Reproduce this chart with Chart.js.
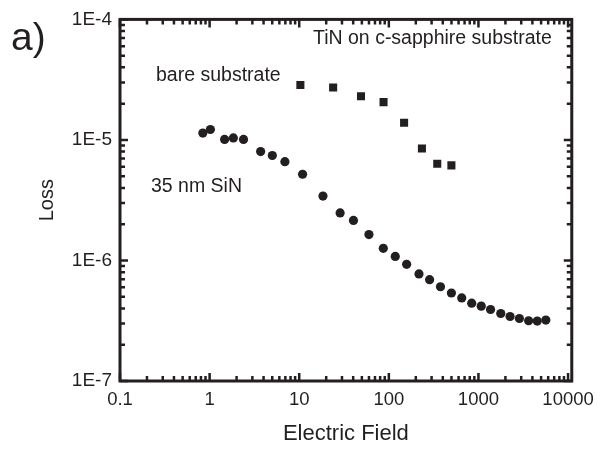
<!DOCTYPE html>
<html lang="en">
<head>
<meta charset="utf-8">
<script src="https://cdn.jsdelivr.net/npm/chart.js"></script>
<style>
  html, body { margin: 0; padding: 0; background: #fff; }
</style>
</head>
<body>
<canvas id="lossChart" width="602" height="451"></canvas>
<script>
// 35 nm SiN on TiN / c-sapphire (circles)
const sinField = [0.84, 1.02, 1.47, 1.84, 2.39, 3.71, 5.01, 6.92, 10.9, 18.4, 28.6, 40.3, 60, 86.7, 118,
                  158, 217, 285, 377, 499, 651, 841, 1074, 1365, 1775, 2254, 2864, 3630, 4530, 5650];
const sinLoss  = [1.14e-5, 1.22e-5, 1.01e-5, 1.04e-5, 1.01e-5, 8.0e-6, 7.43e-6, 6.6e-6, 5.19e-6, 3.42e-6,
                  2.48e-6, 2.15e-6, 1.64e-6, 1.26e-6, 1.08e-6, 9.29e-7, 7.73e-7, 6.93e-7, 6.05e-7, 5.37e-7,
                  4.89e-7, 4.42e-7, 4.18e-7, 3.92e-7, 3.63e-7, 3.43e-7, 3.30e-7, 3.16e-7, 3.14e-7, 3.2e-7];

// bare substrate (squares)
const bareField = [10.3, 23.9, 48.9, 87.3, 148, 234, 347, 499];
const bareLoss  = [2.86e-5, 2.72e-5, 2.30e-5, 2.06e-5, 1.39e-5, 8.48e-6, 6.35e-6, 6.15e-6];

const xTickValues = [0.1, 1, 10, 100, 1000, 10000];
const xTickLabels = ['0.1', '1', '10', '100', '1000', '10000'];
const yTickValues = [1e-7, 1e-6, 1e-5, 1e-4];
const yTickLabels = ['1E-7', '1E-6', '1E-5', '1E-4'];

const ink = '#231f20';
const fontFamily = '"Liberation Sans", Arial, Helvetica, sans-serif';

// frame + inward ticks on all four sides (Origin style)
const frameTicks = {
  id: 'frameTicks',
  afterDatasetsDraw(chart) {
    const { ctx, chartArea: a, scales } = chart;
    const xs = scales.x, ys = scales.y;
    ctx.save();
    ctx.strokeStyle = ink;
    ctx.lineWidth = 2.5;
    ctx.beginPath();
    for (let d = -1; d <= 4; d++) {
      for (let m = 1; m <= 9; m++) {
        const v = m * Math.pow(10, d);
        if (v < xs.min * 0.999 || v > xs.max) continue;
        const px = xs.getPixelForValue(v);
        const len = m === 1 ? 8 : 5;
        ctx.moveTo(px, a.bottom); ctx.lineTo(px, a.bottom - len);
        ctx.moveTo(px, a.top); ctx.lineTo(px, a.top + len);
      }
    }
    for (let d = -7; d <= -4; d++) {
      for (let m = 1; m <= 9; m++) {
        const v = m * Math.pow(10, d);
        if (v < ys.min * 0.999 || v > ys.max * 1.001) continue;
        const py = ys.getPixelForValue(v);
        const len = m === 1 ? 8 : 5;
        ctx.moveTo(a.left, py); ctx.lineTo(a.left + len, py);
        ctx.moveTo(a.right, py); ctx.lineTo(a.right - len, py);
      }
    }
    ctx.stroke();
    ctx.lineWidth = 3;
    ctx.strokeRect(a.left, a.top, a.right - a.left, a.bottom - a.top);
    ctx.restore();
  }
};

// panel letter and in-plot notes
const notes = {
  id: 'notes',
  afterDraw(chart) {
    const ctx = chart.ctx;
    ctx.save();
    ctx.fillStyle = ink;
    ctx.textBaseline = 'alphabetic';
    ctx.textAlign = 'left';
    ctx.font = '39px ' + fontFamily;
    ctx.fillText('a)', 11, 50);
    ctx.font = '19.5px ' + fontFamily;
    ctx.fillText('TiN on c-sapphire substrate', 313, 44);
    ctx.fillText('bare substrate', 156, 81);
    ctx.fillText('35 nm SiN', 151, 192);
    ctx.restore();
  }
};

const ctx = document.getElementById('lossChart').getContext('2d');
new Chart(ctx, {
  type: 'scatter',
  data: {
    datasets: [
      {
        label: '35 nm SiN',
        data: sinField.map((x, i) => ({ x: x, y: sinLoss[i] })),
        pointStyle: 'circle',
        pointRadius: 4.6,
        backgroundColor: ink,
        borderColor: ink,
        borderWidth: 0
      },
      {
        label: 'bare substrate',
        data: bareField.map((x, i) => ({ x: x, y: bareLoss[i] })),
        pointStyle: 'rect',
        pointRadius: 5.7,
        backgroundColor: ink,
        borderColor: ink,
        borderWidth: 0
      }
    ]
  },
  options: {
    responsive: false,
    animation: false,
    devicePixelRatio: 1,
    layout: { padding: { left: 0, top: 15, right: 26, bottom: 0 } },
    plugins: {
      legend: { display: false },
      tooltip: { enabled: false }
    },
    scales: {
      x: {
        type: 'logarithmic',
        min: 0.1,
        max: 11000,
        grid: { display: false, drawTicks: false },
        border: { display: false },
        afterBuildTicks: s => { s.ticks = xTickValues.map(v => ({ value: v })); },
        afterFit: s => { s.height = 70; },
        ticks: {
          autoSkip: false,
          maxRotation: 0,
          padding: 8,
          color: ink,
          font: { family: fontFamily, size: 18.5 },
          callback: (v, i) => xTickLabels[i]
        },
        title: {
          display: true,
          text: 'Electric Field',
          color: ink,
          font: { family: fontFamily, size: 22 },
          padding: { top: 0, bottom: 4 }
        }
      },
      y: {
        type: 'logarithmic',
        min: 1e-7,
        max: 1e-4,
        grid: { display: false, drawTicks: false },
        border: { display: false },
        afterBuildTicks: s => { s.ticks = yTickValues.map(v => ({ value: v })); },
        afterFit: s => { s.width = 120; },
        ticks: {
          autoSkip: false,
          padding: 8,
          color: ink,
          font: { family: fontFamily, size: 19 },
          callback: (v, i) => yTickLabels[i]
        },
        title: {
          display: true,
          text: 'Loss',
          color: ink,
          font: { family: fontFamily, size: 20 },
          padding: { top: 35, bottom: 0 }
        }
      }
    }
  },
  plugins: [frameTicks, notes]
});
</script>
</body>
</html>
